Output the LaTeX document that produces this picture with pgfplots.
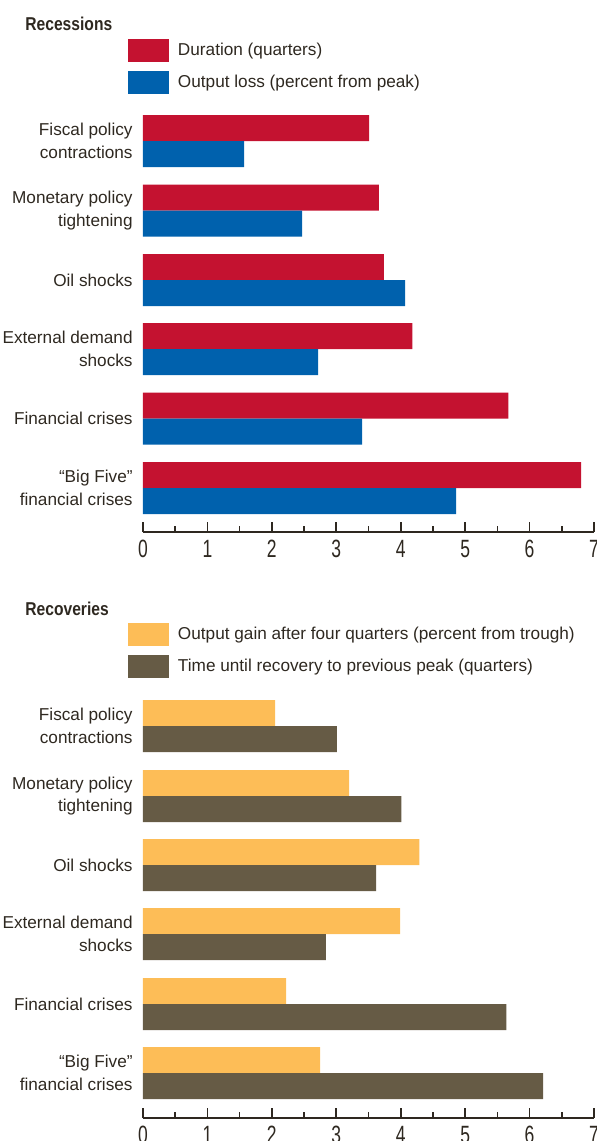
\documentclass[border=0pt]{standalone}
\usepackage{pgfplots}
\pgfplotsset{compat=1.18}
\usepackage{fontspec}
\setmainfont{Liberation Sans}
\newfontfamily\headfont[FakeStretch=0.84]{Liberation Sans}
\newfontfamily\tickfont[FakeStretch=0.7]{Liberation Sans}

\definecolor{durred}{HTML}{C41230}
\definecolor{lossblue}{HTML}{0061AD}
\definecolor{gainyellow}{HTML}{FDBD57}
\definecolor{timebrown}{HTML}{665B45}
\definecolor{ink}{HTML}{2E2820}

% 1 px of the reference = 0.5pt
\pgfplotsset{
  panel/.style={
    xbar, x=32.214pt, y=0.5pt,
    xmin=0, xmax=7, ymin=0, ymax=432,
    anchor=south west,
    axis x line*=bottom, axis y line*=left,
    y axis line style={draw=none},
    major y tick style={draw=none},
    x axis line style={ink, line width=0.9pt},
    xtick={0,...,7}, minor x tick num=1,
    tick align=inside,
    major tick length=5pt, minor tick length=3pt,
    every tick/.style={ink, line width=0.8pt},
    /pgf/number format/assume math mode=true,
    xticklabel style={font=\tickfont\fontsize{12.5}{12}\selectfont, text=ink, inner sep=0pt, yshift=-3.75pt},
    yticklabel style={font=\fontsize{8.6}{11.3}\selectfont, text=ink, align=right, inner sep=0pt, xshift=-5pt},
    bar width=13pt,
    legend cell align=left,
    legend image code/.code={\fill[##1] (0pt,-5.75pt) rectangle (20.5pt,5.75pt);},
    legend style={anchor=north west, draw=none, fill=none, inner sep=0pt, outer sep=0pt,
      row sep=4.5pt, column sep=4.5pt, font=\fontsize{8.6}{10}\selectfont, text=ink,
      nodes={inner sep=0pt}},
  }
}

\begin{document}
\begin{tikzpicture}
\useasboundingbox (0,0) rectangle (298.5pt,-570.5pt);

\node[anchor=west, inner sep=0pt, text=ink, font=\headfont\bfseries\fontsize{9.3}{10}\selectfont] at (12.5pt,-11.75pt) {Recessions};

\begin{axis}[panel, at={(71.5pt,-266pt)},
  ytick={44,113.5,183,252,321.5,391},
  yticklabels={{“Big Five”\\financial crises},{Financial crises},{External demand\\shocks},{Oil shocks},{Monetary policy\\tightening},{Fiscal policy\\contractions}},
  legend style={at={(-0.0333,1.1412)}}]
\addplot[fill=durred, draw=none, bar shift=6.5pt] coordinates {
  (3.51,391) (3.66,321.5) (3.74,252) (4.18,183) (5.67,113.5) (6.80,44)};
\addlegendentry{Duration (quarters)}
\addplot[fill=lossblue, draw=none, bar shift=-6.5pt] coordinates {
  (1.57,391) (2.47,321.5) (4.07,252) (2.72,183) (3.40,113.5) (4.86,44)};
\addlegendentry{Output loss (percent from peak)}
\end{axis}

\node[anchor=west, inner sep=0pt, text=ink, font=\headfont\bfseries\fontsize{9.3}{10}\selectfont] at (12.5pt,-304.5pt) {Recoveries};

\begin{axis}[panel, at={(71.5pt,-559pt)},
  ytick={45,114,184,253,322,392},
  yticklabels={{“Big Five”\\financial crises},{Financial crises},{External demand\\shocks},{Oil shocks},{Monetary policy\\tightening},{Fiscal policy\\contractions}},
  legend style={at={(-0.0333,1.1458)}}]
\addplot[fill=gainyellow, draw=none, bar shift=6.5pt] coordinates {
  (2.05,392) (3.20,322) (4.29,253) (3.99,184) (2.22,114) (2.75,45)};
\addlegendentry{Output gain after four quarters (percent from trough)}
\addplot[fill=timebrown, draw=none, bar shift=-6.5pt] coordinates {
  (3.01,392) (4.01,322) (3.62,253) (2.84,184) (5.64,114) (6.21,45)};
\addlegendentry{Time until recovery to previous peak (quarters)}
\end{axis}
\end{tikzpicture}
\end{document}
